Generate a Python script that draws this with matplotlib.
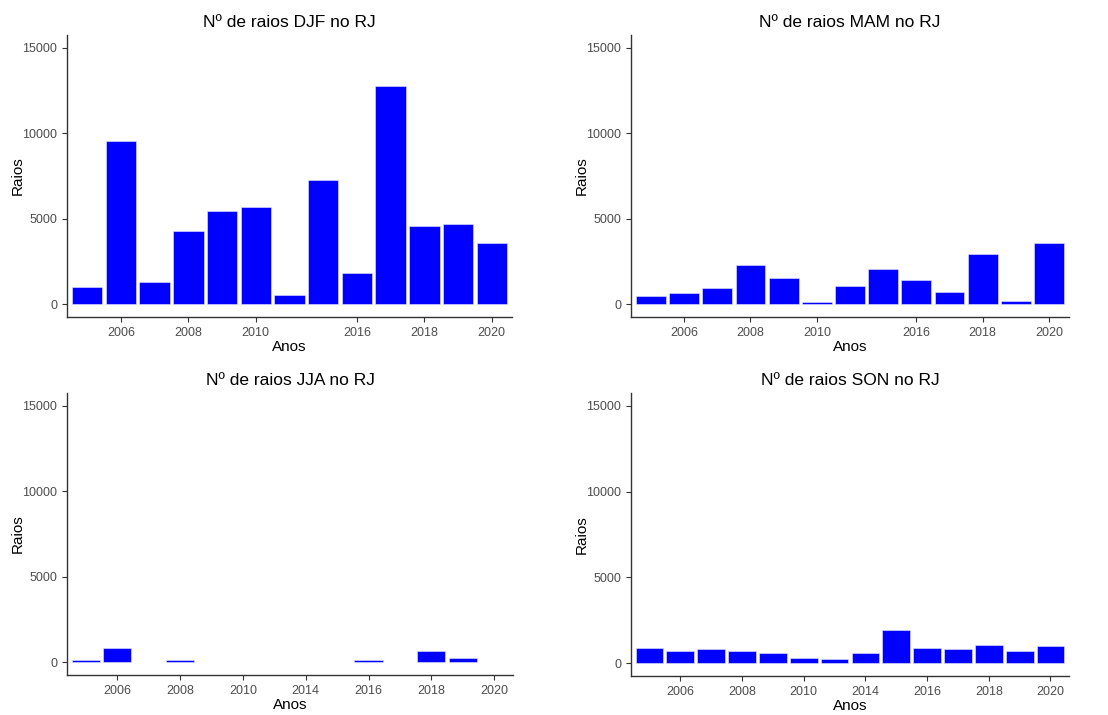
import numpy as np
import matplotlib.pyplot as plt

plt.rcParams['font.family'] = ['Liberation Sans', 'DejaVu Sans']

nan = np.nan

# DJF / MAM: 13 anos (sem 2014), JJA / SON: 14 anos
anos_djf = ["2005", "2006", "2007", "2008", "2009", "2010", "2011", "2015",
            "2016", "2017", "2018", "2019", "2020"]
raios_djf = [1010, 9550, 1310, 4260, 5480, 5710, 530, 7240, 1840, 12780, 4600, 4710, 3600]

anos_mam = anos_djf
raios_mam = [490, 650, 960, 2310, 1510, 110, 1080, 2070, 1430, 720, 2950, 200, 3580]

anos_jja = ["2005", "2006", "2007", "2008", "2009", "2010", "2011", "2014",
            "2015", "2016", "2017", "2018", "2019", "2020"]
raios_jja = [140, 840, nan, 130, nan, nan, nan, nan, nan, 100, nan, 660, 250, nan]

anos_son = anos_jja
raios_son = [900, 720, 840, 720, 610, 310, 260, 610, 1920, 900, 840, 1080, 720, 980]

rotulos = ["2006", "2008", "2010", "2014", "2016", "2018", "2020"]

paineis = [
    ("Nº de raios DJF no RJ", anos_djf, raios_djf, [67, 35, 512, 317]),
    ("Nº de raios MAM no RJ", anos_mam, raios_mam, [631, 35, 1069, 317]),
    ("Nº de raios JJA no RJ", anos_jja, raios_jja, [67, 393, 513, 675]),
    ("Nº de raios SON no RJ", anos_son, raios_son, [631, 393, 1069, 676]),
]

W, H = 1108, 715
fig = plt.figure(figsize=(W / 100, H / 100), dpi=100)

for titulo, anos, raios, (l, t, r, b) in paineis:
    ax = fig.add_axes([l / W, 1 - b / H, (r - l) / W, (b - t) / H])
    x = np.arange(len(anos))
    ax.bar(x, raios, width=0.9, color="#0000FF", edgecolor="#E8E8FF", linewidth=0.4)
    ax.set_xlim(-0.6, len(anos) - 0.4)
    ax.set_ylim(-750, 15750)
    ax.set_yticks([0, 5000, 10000, 15000])
    pos = [i for i, a in enumerate(anos) if a in rotulos]
    ax.set_xticks(pos)
    ax.set_xticklabels([anos[i] for i in pos])
    ax.tick_params(labelsize=9, colors="#333333", labelcolor="#4D4D4D", length=3.5, width=0.8)
    for s in ["top", "right"]:
        ax.spines[s].set_visible(False)
    for s in ["left", "bottom"]:
        ax.spines[s].set_linewidth(1.0)
        ax.spines[s].set_color("#333333")
    ax.set_title(titulo, fontsize=12.5, pad=6)
    ax.set_xlabel("Anos", fontsize=11, labelpad=1)
    ax.set_ylabel("Raios", fontsize=11, labelpad=-2)

fig.savefig("out.png", dpi=100)
